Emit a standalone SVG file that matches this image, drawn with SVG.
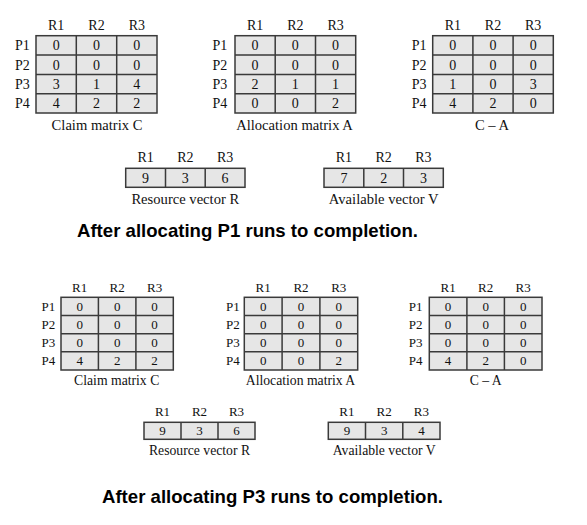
<svg xmlns="http://www.w3.org/2000/svg" width="587" height="525" viewBox="0 0 587 525">
<style>
.bg{fill:#e6e6e6;stroke:none}
.ln{stroke:#3a3a3a;stroke-width:1.5;fill:none}
.t{font-family:"Liberation Serif","Times New Roman",serif;fill:#111;text-anchor:middle}
.p{font-family:"Liberation Serif","Times New Roman",serif;fill:#111}
.s1{font-size:14px}
.c1{font-size:14.6px}
.s2{font-size:13px}
.c2{font-size:13.7px}
.ti{font-family:"Liberation Sans",Arial,sans-serif;font-weight:bold;font-size:18.6px;fill:#000}
</style>
<rect width="587" height="525" fill="#fff"/>

<!-- ===== TOP SECTION ===== -->
<g id="claim1">
<rect class="bg" x="36" y="35.7" width="121" height="77.3"/>
<path class="ln" d="M76.3 35.7V113M116.7 35.7V113M36 55H157M36 74.4H157M36 93.7H157"/>
<rect class="ln" x="36" y="35.7" width="121" height="77.3"/>
<g class="t s1"><text x="56.2" y="30">R1</text><text x="96.5" y="30">R2</text><text x="136.8" y="30">R3</text>
<text x="56.2" y="50.2">0</text><text x="96.5" y="50.2">0</text><text x="136.8" y="50.2">0</text>
<text x="56.2" y="69.5">0</text><text x="96.5" y="69.5">0</text><text x="136.8" y="69.5">0</text>
<text x="56.2" y="88.8">3</text><text x="96.5" y="88.8">1</text><text x="136.8" y="88.8">4</text>
<text x="56.2" y="108.2">4</text><text x="96.5" y="108.2">2</text><text x="136.8" y="108.2">2</text></g>
<g class="p s1"><text x="15" y="50.2">P1</text><text x="15" y="69.5">P2</text><text x="15" y="88.8">P3</text><text x="15" y="108.2">P4</text></g>
<text class="t c1" x="97" y="130">Claim matrix C</text>
</g>

<g id="alloc1">
<rect class="bg" x="235" y="35.7" width="120.7" height="77.3"/>
<path class="ln" d="M275.2 35.7V113M315.5 35.7V113M235 55H355.7M235 74.4H355.7M235 93.7H355.7"/>
<rect class="ln" x="235" y="35.7" width="120.7" height="77.3"/>
<g class="t s1"><text x="255.1" y="30">R1</text><text x="295.3" y="30">R2</text><text x="335.6" y="30">R3</text>
<text x="255.1" y="50.2">0</text><text x="295.3" y="50.2">0</text><text x="335.6" y="50.2">0</text>
<text x="255.1" y="69.5">0</text><text x="295.3" y="69.5">0</text><text x="335.6" y="69.5">0</text>
<text x="255.1" y="88.8">2</text><text x="295.3" y="88.8">1</text><text x="335.6" y="88.8">1</text>
<text x="255.1" y="108.2">0</text><text x="295.3" y="108.2">0</text><text x="335.6" y="108.2">2</text></g>
<g class="p s1"><text x="212.5" y="50.2">P1</text><text x="212.5" y="69.5">P2</text><text x="212.5" y="88.8">P3</text><text x="212.5" y="108.2">P4</text></g>
<text class="t c1" x="294.5" y="130">Allocation matrix A</text>
</g>

<g id="need1">
<rect class="bg" x="432.7" y="35.7" width="120.6" height="77.3"/>
<path class="ln" d="M472.9 35.7V113M513.1 35.7V113M432.7 55H553.3M432.7 74.4H553.3M432.7 93.7H553.3"/>
<rect class="ln" x="432.7" y="35.7" width="120.6" height="77.3"/>
<g class="t s1"><text x="452.8" y="30">R1</text><text x="493" y="30">R2</text><text x="533.2" y="30">R3</text>
<text x="452.8" y="50.2">0</text><text x="493" y="50.2">0</text><text x="533.2" y="50.2">0</text>
<text x="452.8" y="69.5">0</text><text x="493" y="69.5">0</text><text x="533.2" y="69.5">0</text>
<text x="452.8" y="88.8">1</text><text x="493" y="88.8">0</text><text x="533.2" y="88.8">3</text>
<text x="452.8" y="108.2">4</text><text x="493" y="108.2">2</text><text x="533.2" y="108.2">0</text></g>
<g class="p s1"><text x="411.7" y="50.2">P1</text><text x="411.7" y="69.5">P2</text><text x="411.7" y="88.8">P3</text><text x="411.7" y="108.2">P4</text></g>
<text class="t c1" x="492" y="130">C – A</text>
</g>

<g id="res1">
<rect class="bg" x="125.7" y="168.3" width="119.3" height="19"/>
<path class="ln" d="M165.5 168.3V187.3M205.2 168.3V187.3"/>
<rect class="ln" x="125.7" y="168.3" width="119.3" height="19"/>
<g class="t s1"><text x="145.6" y="161.7">R1</text><text x="185.3" y="161.7">R2</text><text x="225.1" y="161.7">R3</text>
<text x="145.6" y="182.6">9</text><text x="185.3" y="182.6">3</text><text x="225.1" y="182.6">6</text></g>
<text class="t c1" x="185.3" y="204">Resource vector R</text>
</g>

<g id="avail1">
<rect class="bg" x="324" y="168.3" width="119.3" height="19"/>
<path class="ln" d="M363.8 168.3V187.3M403.5 168.3V187.3"/>
<rect class="ln" x="324" y="168.3" width="119.3" height="19"/>
<g class="t s1"><text x="343.9" y="161.7">R1</text><text x="383.7" y="161.7">R2</text><text x="423.4" y="161.7">R3</text>
<text x="343.9" y="182.6">7</text><text x="383.7" y="182.6">2</text><text x="423.4" y="182.6">3</text></g>
<text class="t c1" x="383.7" y="204">Available vector V</text>
</g>

<text id="title1" class="ti" x="77" y="237">After allocating P1 runs to completion.</text>

<!-- ===== BOTTOM SECTION ===== -->
<g id="claim2">
<rect class="bg" x="61" y="297.3" width="112.3" height="72.7"/>
<path class="ln" d="M98.4 297.3V370M135.9 297.3V370M61 315.5H173.3M61 333.7H173.3M61 351.8H173.3"/>
<rect class="ln" x="61" y="297.3" width="112.3" height="72.7"/>
<g class="t s2"><text x="79.7" y="291.7">R1</text><text x="117.2" y="291.7">R2</text><text x="154.6" y="291.7">R3</text>
<text x="79.7" y="310.9">0</text><text x="117.2" y="310.9">0</text><text x="154.6" y="310.9">0</text>
<text x="79.7" y="329.1">0</text><text x="117.2" y="329.1">0</text><text x="154.6" y="329.1">0</text>
<text x="79.7" y="347.3">0</text><text x="117.2" y="347.3">0</text><text x="154.6" y="347.3">0</text>
<text x="79.7" y="365.4">4</text><text x="117.2" y="365.4">2</text><text x="154.6" y="365.4">2</text></g>
<g class="p s2"><text x="41.5" y="310.9">P1</text><text x="41.5" y="329.1">P2</text><text x="41.5" y="347.3">P3</text><text x="41.5" y="365.4">P4</text></g>
<text class="t c2" x="116.7" y="385">Claim matrix C</text>
</g>

<g id="alloc2">
<rect class="bg" x="244.3" y="297.3" width="113.4" height="72.7"/>
<path class="ln" d="M282.1 297.3V370M319.9 297.3V370M244.3 315.5H357.7M244.3 333.7H357.7M244.3 351.8H357.7"/>
<rect class="ln" x="244.3" y="297.3" width="113.4" height="72.7"/>
<g class="t s2"><text x="263.2" y="291.7">R1</text><text x="301" y="291.7">R2</text><text x="338.8" y="291.7">R3</text>
<text x="263.2" y="310.9">0</text><text x="301" y="310.9">0</text><text x="338.8" y="310.9">0</text>
<text x="263.2" y="329.1">0</text><text x="301" y="329.1">0</text><text x="338.8" y="329.1">0</text>
<text x="263.2" y="347.3">0</text><text x="301" y="347.3">0</text><text x="338.8" y="347.3">0</text>
<text x="263.2" y="365.4">0</text><text x="301" y="365.4">0</text><text x="338.8" y="365.4">2</text></g>
<g class="p s2"><text x="226" y="310.9">P1</text><text x="226" y="329.1">P2</text><text x="226" y="347.3">P3</text><text x="226" y="365.4">P4</text></g>
<text class="t c2" x="300.5" y="385">Allocation matrix A</text>
</g>

<g id="need2">
<rect class="bg" x="429.3" y="297.3" width="112.7" height="72.7"/>
<path class="ln" d="M466.9 297.3V370M504.4 297.3V370M429.3 315.5H542M429.3 333.7H542M429.3 351.8H542"/>
<rect class="ln" x="429.3" y="297.3" width="112.7" height="72.7"/>
<g class="t s2"><text x="448.1" y="291.7">R1</text><text x="485.7" y="291.7">R2</text><text x="523.2" y="291.7">R3</text>
<text x="448.1" y="310.9">0</text><text x="485.7" y="310.9">0</text><text x="523.2" y="310.9">0</text>
<text x="448.1" y="329.1">0</text><text x="485.7" y="329.1">0</text><text x="523.2" y="329.1">0</text>
<text x="448.1" y="347.3">0</text><text x="485.7" y="347.3">0</text><text x="523.2" y="347.3">0</text>
<text x="448.1" y="365.4">4</text><text x="485.7" y="365.4">2</text><text x="523.2" y="365.4">0</text></g>
<g class="p s2"><text x="408.7" y="310.9">P1</text><text x="408.7" y="329.1">P2</text><text x="408.7" y="347.3">P3</text><text x="408.7" y="365.4">P4</text></g>
<text class="t c2" x="485.7" y="385">C – A</text>
</g>

<g id="res2">
<rect class="bg" x="144" y="422.3" width="111" height="17"/>
<path class="ln" d="M181 422.3V439.3M218 422.3V439.3"/>
<rect class="ln" x="144" y="422.3" width="111" height="17"/>
<g class="t s2"><text x="162.5" y="415.7">R1</text><text x="199.5" y="415.7">R2</text><text x="236.5" y="415.7">R3</text>
<text x="162.5" y="435.3">9</text><text x="199.5" y="435.3">3</text><text x="236.5" y="435.3">6</text></g>
<text class="t c2" x="199.5" y="455">Resource vector R</text>
</g>

<g id="avail2">
<rect class="bg" x="328.3" y="422.3" width="111.7" height="17"/>
<path class="ln" d="M365.5 422.3V439.3M402.8 422.3V439.3"/>
<rect class="ln" x="328.3" y="422.3" width="111.7" height="17"/>
<g class="t s2"><text x="346.9" y="415.7">R1</text><text x="384.2" y="415.7">R2</text><text x="421.4" y="415.7">R3</text>
<text x="346.9" y="435.3">9</text><text x="384.2" y="435.3">3</text><text x="421.4" y="435.3">4</text></g>
<text class="t c2" x="384.2" y="455">Available vector V</text>
</g>

<text id="title2" class="ti" x="102" y="503">After allocating P3 runs to completion.</text>
</svg>
